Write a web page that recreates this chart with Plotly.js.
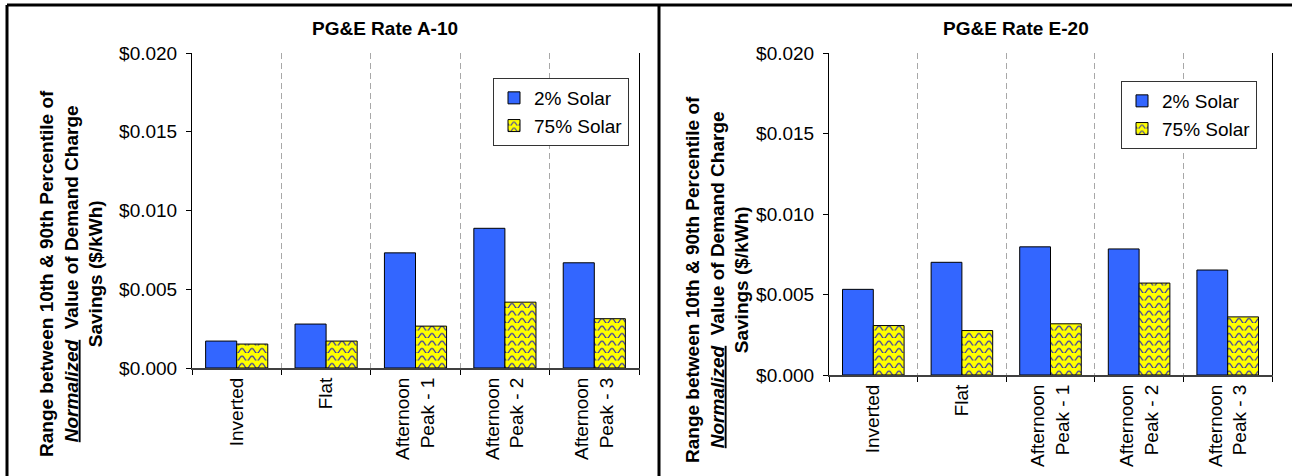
<!DOCTYPE html>
<html>
<head>
<meta charset="utf-8">
<script src="https://cdn.plot.ly/plotly-3.0.1.min.js"></script>
<style>
  html, body { margin: 0; padding: 0; background: #fff; }
  #chart { width: 1292px; height: 476px; }
</style>
</head>
<body>
<div id="chart"></div>
<script>
// ---- data ----
const categories = ["Inverted", "Flat", "Afternoon<br>Peak - 1", "Afternoon<br>Peak - 2", "Afternoon<br>Peak - 3"];
const seriesNames = ["2% Solar", "75% Solar"];
const titleA10 = "PG&E Rate A-10";
const titleE20 = "PG&E Rate E-20";
const a10Solar2 = [0.00171, 0.00279, 0.00731, 0.00887, 0.00668];
const a10Solar75 = [0.00152, 0.00171, 0.00266, 0.00418, 0.00313];
const e20Solar2 = [0.00532, 0.00700, 0.00796, 0.00783, 0.00652];
const e20Solar75 = [0.00307, 0.00276, 0.00318, 0.00571, 0.00361];
const yTitle = "Range between 10th & 90th Percentile of<br><i><u>Normalized</u></i>\u00a0 Value of Demand Charge<br>Savings ($/kWh)";

// ---- layout helpers (pixel -> paper) ----
const W = 1292, H = 476;
const px = x => x / W;
const py = y => 1 - y / H;

const FONT = "Liberation Sans, Arial, sans-serif";
const blue = "#3366FF";
const yellow = "#FFFF00";
const waveColor = "#3a3aa8";

function barTrace(vals, name, xa, ya, patterned, legend) {
  const t = {
    type: "bar", x: categories, y: vals, name: name,
    xaxis: xa, yaxis: ya, showlegend: true, legend: legend,
    marker: { color: patterned ? yellow : blue, line: { color: "#000", width: 1 } },
    hoverinfo: "skip"
  };
  if (patterned) {
    t.marker.pattern = { shape: "-", bgcolor: yellow, fgcolor: waveColor, size: 8, solidity: 0.15, fillmode: "replace" };
  }
  return t;
}

const data = [
  barTrace(a10Solar2, seriesNames[0], "x", "y", false, "legend"),
  barTrace(a10Solar75, seriesNames[1], "x", "y", true, "legend"),
  barTrace(e20Solar2, seriesNames[0], "x2", "y2", false, "legend2"),
  barTrace(e20Solar75, seriesNames[1], "x2", "y2", true, "legend2")
];

function xAxis(domain) {
  return {
    domain: domain, type: "category",
    showline: true, linecolor: "#404040", linewidth: 2,
    ticks: "outside", ticklen: 5, tickcolor: "#000", tickwidth: 1,
    tickson: "boundaries",
    showgrid: true, gridcolor: "#a8a8a8", griddash: "6px,4px", gridwidth: 1,
    tickangle: -90,
    tickfont: { family: FONT, size: 19, color: "#000" },
    zeroline: false, fixedrange: true
  };
}
function yAxis(domain, anchor) {
  return {
    domain: domain, anchor: anchor, range: [0, 0.02], dtick: 0.005, tick0: 0,
    tickformat: "$.3f",
    showline: true, linecolor: "#000", linewidth: 1, mirror: true,
    ticks: "outside", ticklen: 5, tickcolor: "#000",
    ticklabelstandoff: 5,
    showgrid: false, zeroline: false,
    tickfont: { family: FONT, size: 19, color: "#000" },
    fixedrange: true
  };
}

const frameLine = { color: "#000", width: 3 };
const legendStyle = {
  bgcolor: "#fff", bordercolor: "#333", borderwidth: 1,
  font: { family: FONT, size: 19, color: "#000" },
  tracegroupgap: 0, itemwidth: 30, traceorder: "normal"
};

const layout = {
  width: W, height: H,
  margin: { l: 0, r: 0, t: 0, b: 0 },
  paper_bgcolor: "#fff", plot_bgcolor: "#fff",
  font: { family: FONT, color: "#000" },
  barmode: "group", bargap: 0.305, bargroupgap: 0,
  xaxis: Object.assign(xAxis([px(192), px(639)]), { anchor: "y" }),
  yaxis: yAxis([py(368), py(53)], "x"),
  xaxis2: Object.assign(xAxis([px(829), px(1272)]), { anchor: "y2" }),
  yaxis2: yAxis([py(375), py(53)], "x2"),
  legend: Object.assign({ x: px(629), xanchor: "right", y: py(78), yanchor: "top" }, legendStyle),
  legend2: Object.assign({ x: px(1257), xanchor: "right", y: py(81), yanchor: "top" }, legendStyle),
  annotations: [
    { text: "<b>" + titleA10.replace("&", "&amp;") + "</b>", xref: "paper", yref: "paper", x: px(385), y: py(28), xanchor: "center", yanchor: "middle", showarrow: false, font: { family: FONT, size: 19, color: "#000" } },
    { text: "<b>" + titleE20.replace("&", "&amp;") + "</b>", xref: "paper", yref: "paper", x: px(1016), y: py(28), xanchor: "center", yanchor: "middle", showarrow: false, font: { family: FONT, size: 19, color: "#000" } },
    { text: "<b>" + yTitle + "</b>", xref: "paper", yref: "paper", x: px(71), y: py(274), xanchor: "center", yanchor: "middle", textangle: -90, showarrow: false, font: { family: FONT, size: 19, color: "#000" } },
    { text: "<b>" + yTitle + "</b>", xref: "paper", yref: "paper", x: px(717), y: py(280), xanchor: "center", yanchor: "middle", textangle: -90, showarrow: false, font: { family: FONT, size: 19, color: "#000" } }
  ],
  shapes: [
    { type: "line", xref: "paper", yref: "paper", x0: px(7), x1: 1, y0: py(5), y1: py(5), line: frameLine },
    { type: "line", xref: "paper", yref: "paper", x0: px(7), x1: px(7), y0: py(5), y1: 0, line: frameLine },
    { type: "line", xref: "paper", yref: "paper", x0: px(659), x1: px(659), y0: py(5), y1: 0, line: frameLine }
  ]
};

Plotly.newPlot("chart", data, layout, { staticPlot: true, displayModeBar: false }).then(function () {
  // turn the straight-line pattern tiles into the wavy hatch of the original
  document.querySelectorAll("#chart pattern").forEach(function (p) {
    const w = 10, h = 7.5;
    p.setAttribute("width", w + "px");
    p.setAttribute("height", h + "px");
    p.querySelectorAll("rect").forEach(function (r) {
      r.setAttribute("width", w + "px");
      r.setAttribute("height", h + "px");
    });
    p.querySelectorAll("path").forEach(function (pa) {
      pa.setAttribute("d", "M-2.5,5.4 Q0,0.6 2.5,5.4 T7.5,5.4 T12.5,5.4");
      pa.setAttribute("stroke-width", "1.3px");
      pa.style.strokeWidth = "1.3px";
      pa.setAttribute("fill", "none");
      pa.style.fill = "none";
    });
  });
});
</script>
</body>
</html>
